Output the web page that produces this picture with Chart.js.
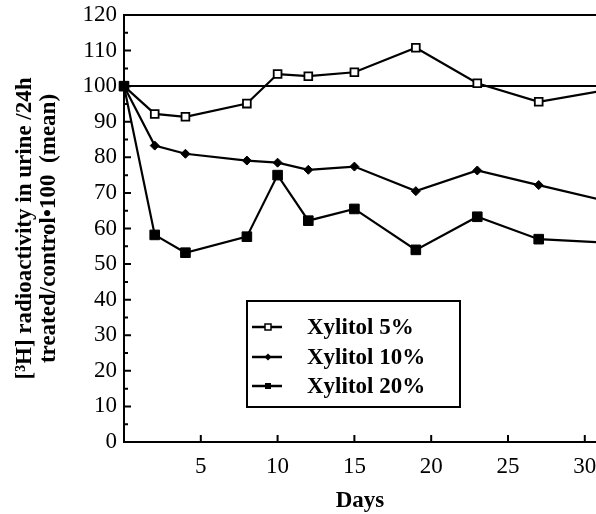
<!DOCTYPE html>
<html>
<head>
<meta charset="utf-8">
<script src="https://cdn.jsdelivr.net/npm/chart.js@4.4.0/dist/chart.umd.min.js"></script>
<style>
  body { margin: 0; background: #fff; }
  #wrap { width: 596px; height: 514px; }
</style>
</head>
<body>
<div id="wrap"><canvas id="lineChart"></canvas></div>
<script>
// values
const days = [0, 2, 4, 8, 10, 12, 15, 19, 23, 27, 31];
const xylitol5 = [100, 92.2, 91.4, 95.1, 103.4, 102.8, 103.9, 110.8, 100.8, 95.6, 98.6];
const xylitol10 = [100, 83.3, 81.0, 79.1, 78.5, 76.5, 77.4, 70.5, 76.3, 72.2, 68.1];
const xylitol20 = [100, 58.2, 53.2, 57.7, 75.0, 62.2, 65.5, 54.0, 63.3, 57.0, 56.1];
const seriesLabels = ["Xylitol 5%", "Xylitol 10%", "Xylitol 20%"];
const xTicks = [5, 10, 15, 20, 25, 30];
const yTicks = [0, 10, 20, 30, 40, 50, 60, 70, 80, 90, 100, 110, 120];

const serif = "'Liberation Serif', 'DejaVu Serif', serif";

function toPoints(vals) {
  return vals.map((v, i) => ({ x: days[i], y: v }));
}
// no marker on the point that runs off the right edge
const radii = (r) => days.map((d) => (d > 30.7 ? 0 : r));

// inward tick marks + legend box drawn inside the plot
const figureExtras = {
  id: "figureExtras",
  afterDraw(chart) {
    const ctx = chart.ctx;
    const xs = chart.scales.x;
    const ys = chart.scales.y;
    const area = chart.chartArea;
    ctx.save();
    ctx.strokeStyle = "#000";
    ctx.lineWidth = 2;
    ctx.beginPath();
    for (let v = 5; v < 120; v += 5) {
      const y = ys.getPixelForValue(v);
      const len = v % 10 === 0 ? 7 : 4;
      ctx.moveTo(area.left, y);
      ctx.lineTo(area.left + len, y);
    }
    xTicks.forEach((d) => {
      const x = xs.getPixelForValue(d);
      ctx.moveTo(x, area.bottom);
      ctx.lineTo(x, area.bottom - 7);
    });
    ctx.stroke();

    // legend
    const bx = 247, by = 301, bw = 213, bh = 106;
    ctx.fillStyle = "#fff";
    ctx.fillRect(bx, by, bw, bh);
    ctx.lineWidth = 2;
    ctx.strokeRect(bx, by, bw, bh);
    const rows = [327, 357, 386];
    ctx.font = "bold 23px " + serif;
    ctx.textBaseline = "middle";
    rows.forEach((ry, i) => {
      ctx.beginPath();
      ctx.lineWidth = 2.5;
      ctx.moveTo(252, ry);
      ctx.lineTo(282, ry);
      ctx.stroke();
      ctx.fillStyle = "#000";
      if (i === 0) {
        ctx.fillStyle = "#fff";
        ctx.fillRect(265, ry - 3, 6, 6);
        ctx.lineWidth = 1.5;
        ctx.strokeRect(265, ry - 3, 6, 6);
      } else if (i === 1) {
        ctx.beginPath();
        ctx.moveTo(268, ry - 3.5);
        ctx.lineTo(271.5, ry);
        ctx.lineTo(268, ry + 3.5);
        ctx.lineTo(264.5, ry);
        ctx.closePath();
        ctx.fill();
      } else {
        ctx.fillRect(265, ry - 3, 6, 6);
      }
      ctx.fillStyle = "#000";
      ctx.fillText(seriesLabels[i], 307, ry + 1);
    });
    ctx.restore();
  },
};

const clipArea = { left: 10, top: 10, right: 0, bottom: 10 };

const lineChart = new Chart(document.getElementById("lineChart"), {
  type: "line",
  data: {
    datasets: [
      {
        label: seriesLabels[0],
        data: toPoints(xylitol5),
        order: 2,
        borderColor: "#000",
        borderWidth: 2.2,
        pointStyle: "rect",
        pointRadius: radii(5.5),
        pointBackgroundColor: "#fff",
        pointBorderColor: "#000",
        pointBorderWidth: 1.8,
        clip: clipArea,
      },
      {
        label: seriesLabels[1],
        data: toPoints(xylitol10),
        order: 1,
        borderColor: "#000",
        borderWidth: 2.2,
        pointStyle: "rectRot",
        pointRadius: radii(4.5),
        pointBackgroundColor: "#000",
        pointBorderColor: "#000",
        pointBorderWidth: 1,
        clip: clipArea,
      },
      {
        label: seriesLabels[2],
        data: toPoints(xylitol20),
        order: 0,
        borderColor: "#000",
        borderWidth: 2.2,
        pointStyle: "rect",
        pointRadius: radii(6.8),
        pointBackgroundColor: "#000",
        pointBorderColor: "#000",
        pointBorderWidth: 1,
        clip: clipArea,
      },
    ],
  },
  options: {
    responsive: true,
    maintainAspectRatio: false,
    animation: false,
    layout: { autoPadding: false, padding: { top: 15, right: 0, left: 0, bottom: 0 } },
    plugins: {
      legend: { display: false },
      tooltip: { enabled: false },
    },
    scales: {
      x: {
        type: "linear",
        min: 0,
        max: 30.73,
        afterBuildTicks: (scale) => {
          scale.ticks = xTicks.map((v) => ({ value: v }));
        },
        afterFit: (scale) => {
          scale.height = 72;
          scale.paddingRight = 0;
          scale.paddingLeft = 0;
        },
        grid: { display: false, drawTicks: false },
        border: { display: true, color: "#000", width: 2 },
        ticks: {
          color: "#000",
          padding: 11,
          maxRotation: 0,
          font: { family: serif, size: 23 },
        },
        title: {
          display: true,
          text: "Days",
          color: "#000",
          padding: { top: 0, bottom: 1 },
          font: { family: serif, size: 23, weight: "bold", lineHeight: 1 },
        },
      },
      y: {
        min: 0,
        max: 120,
        afterBuildTicks: (scale) => {
          scale.ticks = yTicks.map((v) => ({ value: v }));
        },
        afterFit: (scale) => {
          scale.width = 124;
          scale.paddingTop = 0;
          scale.paddingBottom = 0;
        },
        grid: {
          drawTicks: false,
          color: (c) => (c.tick && (c.tick.value === 100 || c.tick.value === 120) ? "#000" : "rgba(0,0,0,0)"),
          lineWidth: 2,
        },
        border: { display: true, color: "#000", width: 2 },
        ticks: {
          color: "#000",
          padding: 7,
          font: { family: serif, size: 23 },
        },
        title: {
          display: true,
          text: ["[\u00B3H] radioactivity in urine /24h", "treated/control\u2022100  (mean)"],
          color: "#000",
          padding: { top: 13, bottom: 0 },
          font: { family: serif, size: 23, weight: "bold", lineHeight: 1.05 },
        },
      },
    },
  },
  plugins: [figureExtras],
});
</script>
</body>
</html>
